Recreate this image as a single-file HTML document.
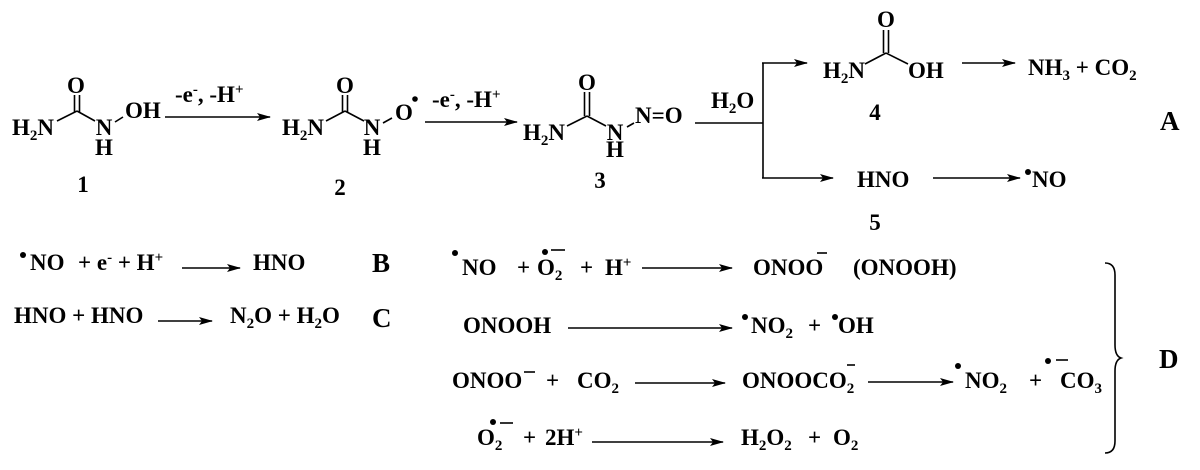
<!DOCTYPE html>
<html><head><meta charset="utf-8"><style>
html,body{margin:0;padding:0;background:#fff}
svg{display:block}
text{font-family:"Liberation Serif",serif;font-weight:bold;font-size:23px;fill:#000}
.s{font-size:15px}
.big{font-size:27px}
line,path{stroke:#000;stroke-width:1.6;fill:none}
</style></head><body>
<svg width="1200" height="470" viewBox="0 0 1200 470" xmlns="http://www.w3.org/2000/svg">
<defs><marker id="a" markerWidth="14" markerHeight="8" refX="13" refY="4" orient="auto" markerUnits="userSpaceOnUse"><path d="M0,0 L14,4 L0,8 L3,4 Z" style="fill:#000;stroke:none"/></marker></defs>

<!-- structure 1 -->
<text x="76" y="93" text-anchor="middle">O</text>
<line x1="74.5" y1="95" x2="74.5" y2="112"/><line x1="79.5" y1="95" x2="79.5" y2="112"/>
<line x1="57" y1="121" x2="77" y2="111"/><line x1="77" y1="111" x2="95" y2="121"/>
<text x="12" y="135">H<tspan class="s" dy="5">2</tspan><tspan dy="-5">N</tspan></text>
<text x="104" y="135" text-anchor="middle">N</text><text x="104" y="155" text-anchor="middle">H</text>
<line x1="115" y1="122" x2="123" y2="117"/>
<text x="125" y="118">OH</text>
<line x1="165" y1="117" x2="270" y2="117" marker-end="url(#a)"/>
<text x="175" y="102">-e<tspan class="s" dy="-8">-</tspan><tspan dy="8">, -H</tspan><tspan class="s" dy="-8">+</tspan></text>
<text x="83" y="192" text-anchor="middle">1</text>

<!-- structure 2 -->
<text x="345" y="93" text-anchor="middle">O</text>
<line x1="342.5" y1="95" x2="342.5" y2="112"/><line x1="347.5" y1="95" x2="347.5" y2="112"/>
<line x1="326" y1="121" x2="345" y2="111"/><line x1="345" y1="111" x2="364" y2="121"/>
<text x="282" y="135">H<tspan class="s" dy="5">2</tspan><tspan dy="-5">N</tspan></text>
<text x="372" y="135" text-anchor="middle">N</text><text x="372" y="155" text-anchor="middle">H</text>
<line x1="383" y1="123" x2="392" y2="118"/>
<text x="395" y="120">O</text><circle cx="415" cy="99" r="2.8"/>
<line x1="425" y1="122" x2="517" y2="122" marker-end="url(#a)"/>
<text x="432" y="107">-e<tspan class="s" dy="-8">-</tspan><tspan dy="8">, -H</tspan><tspan class="s" dy="-8">+</tspan></text>
<text x="340" y="195" text-anchor="middle">2</text>

<!-- structure 3 -->
<text x="587" y="90" text-anchor="middle">O</text>
<line x1="584.5" y1="92" x2="584.5" y2="116"/><line x1="589.5" y1="92" x2="589.5" y2="116"/>
<line x1="567" y1="126" x2="587" y2="116"/><line x1="587" y1="116" x2="606" y2="126"/>
<text x="523" y="140">H<tspan class="s" dy="5">2</tspan><tspan dy="-5">N</tspan></text>
<text x="615" y="140" text-anchor="middle">N</text><text x="615" y="157" text-anchor="middle">H</text>
<line x1="627" y1="127" x2="634" y2="123"/>
<text x="635" y="123">N=O</text>
<text x="600" y="188" text-anchor="middle">3</text>

<!-- split -->
<line x1="695" y1="123" x2="763" y2="123"/>
<text x="711" y="108">H<tspan class="s" dy="5">2</tspan><tspan dy="-5">O</tspan></text>
<line x1="763" y1="63" x2="763" y2="178"/>
<line x1="762" y1="63" x2="807" y2="63" marker-end="url(#a)"/>
<line x1="762" y1="178" x2="833" y2="178" marker-end="url(#a)"/>

<!-- 4 -->
<text x="886" y="27" text-anchor="middle">O</text>
<line x1="883.5" y1="30" x2="883.5" y2="53"/><line x1="888.5" y1="30" x2="888.5" y2="53"/>
<line x1="865" y1="64" x2="886" y2="53"/><line x1="886" y1="53" x2="908" y2="64"/>
<text x="823" y="78">H<tspan class="s" dy="5">2</tspan><tspan dy="-5">N</tspan></text>
<text x="908" y="78">OH</text>
<text x="875" y="120" text-anchor="middle">4</text>
<line x1="962" y1="63" x2="1015" y2="63" marker-end="url(#a)"/>
<text x="1028" y="75">NH<tspan class="s" dy="5">3</tspan><tspan dy="-5"> + CO</tspan><tspan class="s" dy="5">2</tspan></text>
<text class="big" x="1160" y="130">A</text>

<!-- 5 -->
<text x="857" y="187">HNO</text>
<line x1="933" y1="178" x2="1020" y2="178" marker-end="url(#a)"/>
<circle cx="1028" cy="172" r="3"/><text x="1032" y="187">NO</text>
<text x="875" y="230" text-anchor="middle">5</text>

<!-- B -->
<circle cx="23" cy="255" r="3"/>
<text x="30" y="270">NO</text>
<text x="78" y="270">+ e<tspan class="s" dy="-8">-</tspan><tspan dy="8"> + H</tspan><tspan class="s" dy="-8">+</tspan></text>
<line x1="182" y1="268" x2="240" y2="268" marker-end="url(#a)"/>
<text x="253" y="270">HNO</text>
<text class="big" x="372" y="272">B</text>

<!-- C -->
<text x="14" y="323">HNO + HNO</text>
<line x1="158" y1="321" x2="212" y2="321" marker-end="url(#a)"/>
<text x="230" y="323">N<tspan class="s" dy="5">2</tspan><tspan dy="-5">O + H</tspan><tspan class="s" dy="5">2</tspan><tspan dy="-5">O</tspan></text>
<text class="big" x="372" y="327">C</text>

<!-- D row 1 -->
<circle cx="455" cy="253" r="3"/>
<text x="462" y="275">NO</text>
<text x="517" y="275">+</text>
<text x="537" y="275">O<tspan class="s" dy="5">2</tspan></text>
<circle cx="545" cy="252" r="3"/><line x1="551" y1="250" x2="565" y2="250"/>
<text x="580" y="275">+</text>
<text x="605" y="275">H<tspan class="s" dy="-8">+</tspan></text>
<line x1="642" y1="268" x2="732" y2="268" marker-end="url(#a)"/>
<text x="753" y="275">ONOO</text><line x1="817" y1="253" x2="827" y2="253"/>
<text x="853" y="275">(ONOOH)</text>

<!-- D row 2 -->
<text x="463" y="333">ONOOH</text>
<line x1="568" y1="328" x2="732" y2="328" marker-end="url(#a)"/>
<circle cx="745" cy="317" r="3"/>
<text x="751" y="333">NO<tspan class="s" dy="5">2</tspan></text>
<text x="808" y="333">+</text>
<circle cx="835" cy="317" r="3"/><text x="838" y="333">OH</text>

<!-- D row 3 -->
<text x="452" y="388">ONOO</text><line x1="524" y1="372" x2="535" y2="372"/>
<text x="546" y="388">+</text>
<text x="577" y="388">CO<tspan class="s" dy="5">2</tspan></text>
<line x1="635" y1="383" x2="725" y2="383" marker-end="url(#a)"/>
<text x="742" y="388">ONOOCO<tspan class="s" dy="5">2</tspan></text>
<line x1="847" y1="365" x2="855" y2="365"/>
<line x1="868" y1="382" x2="953" y2="382" marker-end="url(#a)"/>
<circle cx="958" cy="366" r="3"/>
<text x="965" y="388">NO<tspan class="s" dy="5">2</tspan></text>
<text x="1029" y="388">+</text>
<circle cx="1048" cy="361" r="3"/><line x1="1056" y1="360" x2="1068" y2="360"/>
<text x="1060" y="388">CO<tspan class="s" dy="5">3</tspan></text>

<!-- D row 4 -->
<text x="477" y="445">O<tspan class="s" dy="5">2</tspan></text>
<circle cx="493" cy="422" r="3"/><line x1="500" y1="423" x2="513" y2="423"/>
<text x="523" y="445">+</text>
<text x="545" y="445">2H<tspan class="s" dy="-8">+</tspan></text>
<line x1="592" y1="442" x2="723" y2="442" marker-end="url(#a)"/>
<text x="741" y="445">H<tspan class="s" dy="5">2</tspan><tspan dy="-5">O</tspan><tspan class="s" dy="5">2</tspan></text>
<text x="808" y="445">+</text>
<text x="833" y="445">O<tspan class="s" dy="5">2</tspan></text>

<path d="M1105,263 Q1115,263 1115,275 L1115,345 Q1115,356 1121,358 Q1115,360 1115,371 L1115,441 Q1115,453 1105,453"/>
<text class="big" x="1159" y="368">D</text>
</svg>
</body></html>
